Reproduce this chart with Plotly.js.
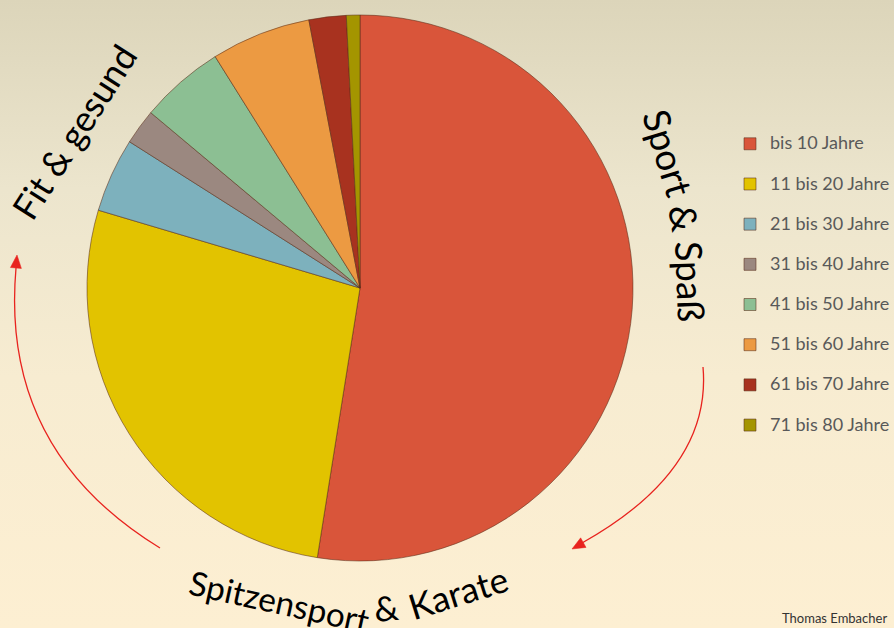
<!DOCTYPE html>
<html><head><meta charset="utf-8">
<script src="https://cdn.plot.ly/plotly-3.0.1.min.js"></script>
<style>
html,body{margin:0;padding:0;}
body{width:894px;height:628px;overflow:hidden;background:linear-gradient(to bottom,#DCD5BA 0%,#ECE5CD 30%,#F7ECD1 60%,#FDEFD2 100%);}
#chart{width:894px;height:628px;}
</style></head><body><div id="chart"></div>
<script>
// ---- data ----
const categories = ['bis 10 Jahre','11 bis 20 Jahre','21 bis 30 Jahre','31 bis 40 Jahre','41 bis 50 Jahre','51 bis 60 Jahre','61 bis 70 Jahre','71 bis 80 Jahre'];
const shares = [52.5, 27.1, 4.4, 2.1, 5.0, 5.9, 2.2, 0.8];
const sliceColors = ['#D9553A','#E2C300','#7DB1BD','#9B8880','#8CBF93','#EC9A42','#A8321F','#A49500'];
const leftPhrase = 'Fit & gesund';
const rightWords = ['Sport','&','Spaß'];
const bottomWords = ['Spitzensport','&','Karate'];
const credit = 'Thomas Embacher';

// ---- helpers (pixel -> paper) ----
const W = 894, H = 628;
const px = x => x / W;
const py = y => 1 - y / H;
const pt = (x, y) => px(x) + ',' + py(y);
const FONT = 'Lato, Open Sans, sans-serif';

const ctx = document.createElement('canvas').getContext('2d');
function measure(text, size) { ctx.font = size + 'px Lato'; return ctx.measureText(text).width; }
function fitSize(text, width) { return 100 * width / measure(text, 100); }

function wordAnn(text, x, y, angle, size) {
  return {text: text, x: px(x), y: py(y), xref: 'paper', yref: 'paper',
    xanchor: 'center', yanchor: 'middle', textangle: angle, showarrow: false,
    font: {family: FONT, size: size, color: '#000000'}};
}
// one word centred at a given angle of a circle
function wordAt(text, cx, cy, R, angDeg, dir, upSign, size, upOff) {
  const a = angDeg * Math.PI / 180;
  const c = Math.cos(a), si = Math.sin(a);
  const x = cx + (R + upSign * upOff) * c;
  const y = cy + (R + upSign * upOff) * si;
  const ang = Math.atan2(dir * c, -dir * si) * 180 / Math.PI;
  return wordAnn(text, x, y, ang, size);
}
// words laid along a circular arc (arc length measured on radius R)
function arcWords(words, cx, cy, R, midDeg, dir, upSign, size, upOff) {
  const ws = words.map(w => measure(w, size));
  const sp = measure(' ', size);
  const total = ws.reduce((a, b) => a + b, 0) + sp * (words.length - 1);
  let s = -total / 2;
  const out = [];
  words.forEach((w, i) => {
    const sc = s + ws[i] / 2;
    out.push(wordAt(w, cx, cy, R, midDeg + dir * sc / R * 180 / Math.PI, dir, upSign, size, upOff));
    s += ws[i] + sp;
  });
  return out;
}
function arrowHead(tx, ty, dx, dy, len, hw) {
  const n = Math.hypot(dx, dy); dx /= n; dy /= n;
  const bx = tx - dx * len, by = ty - dy * len;
  const nx = -dy, ny = dx;
  return {type: 'path', xref: 'paper', yref: 'paper',
    path: 'M' + pt(tx, ty) + ' L' + pt(bx + nx * hw, by + ny * hw) + ' L' + pt(bx - nx * hw, by - ny * hw) + ' Z',
    fillcolor: '#E8231E', line: {color: '#E8231E', width: 0.5}};
}

const sLeft = fitSize(leftPhrase, 198);
const sRight = fitSize(rightWords.join(' '), 214);
const sSp = fitSize(bottomWords[0], 183);
const sKa = fitSize(bottomWords[2], 102);
const bottomSizes = [sSp, (sSp + sKa) / 2, sKa];

// bottom arc: baseline circle centre (354,261), radius 361
const bc = {x: 354, y: 261, r: 361};
const bottomAngles = [102.4, 84.7, 72.6];

const annotations = [
  wordAnn(leftPhrase, 78.5 - 0.843 * 0.134 * sLeft, 134 - 0.537 * 0.134 * sLeft, -57.5, sLeft),
  ...arcWords(rightWords, 190, 300, 496, -9.9, 1, 1, sRight, 0.134 * sRight),
  ...bottomWords.map((w, i) => wordAt(w, bc.x, bc.y, bc.r, bottomAngles[i], -1, -1, bottomSizes[i], 0.387 * bottomSizes[i])),
  {text: credit, x: px(889), y: py(618), xref: 'paper', yref: 'paper', xanchor: 'right', yanchor: 'middle',
   showarrow: false, font: {family: FONT, size: 13, color: '#333333'}}
];

const shapes = [
  {type: 'path', xref: 'paper', yref: 'paper', path: 'M' + pt(160, 548) + ' Q' + pt(0, 450) + ' ' + pt(16, 268),
   line: {color: '#E8231E', width: 1.3}},
  arrowHead(17, 255, 1, -12, 13, 5.5),
  {type: 'path', xref: 'paper', yref: 'paper', path: 'M' + pt(703, 367) + ' Q' + pt(712, 470) + ' ' + pt(582, 543),
   line: {color: '#E8231E', width: 1.3}},
  arrowHead(572, 549, -130, 73, 13, 5.5)
];

const trace = {
  type: 'pie',
  labels: categories.map(c => '<span style="font-size:18px">' + c + '</span><br> '),
  values: shares,
  sort: false,
  direction: 'clockwise',
  rotation: 0,
  textinfo: 'none',
  textposition: 'none',
  hoverinfo: 'none',
  marker: {colors: sliceColors, line: {color: 'rgba(90,45,25,0.55)', width: 1}},
  domain: {x: [87 / W, 633 / W], y: [1 - 561 / H, 1 - 15 / H]}
};

const layout = {
  width: W, height: H,
  margin: {l: 0, r: 0, t: 0, b: 0, autoexpand: false},
  paper_bgcolor: 'rgba(0,0,0,0)',
  plot_bgcolor: 'rgba(0,0,0,0)',
  showlegend: true,
  legend: {x: px(730), xanchor: 'left', y: py(128), yanchor: 'top',
    font: {family: FONT, size: 14.3, color: '#595959'},
    bgcolor: 'rgba(0,0,0,0)', valign: 'top'},
  annotations: annotations,
  shapes: shapes
};

Plotly.newPlot('chart', [trace], layout, {displayModeBar: false, staticPlot: true});
</script></body></html>
